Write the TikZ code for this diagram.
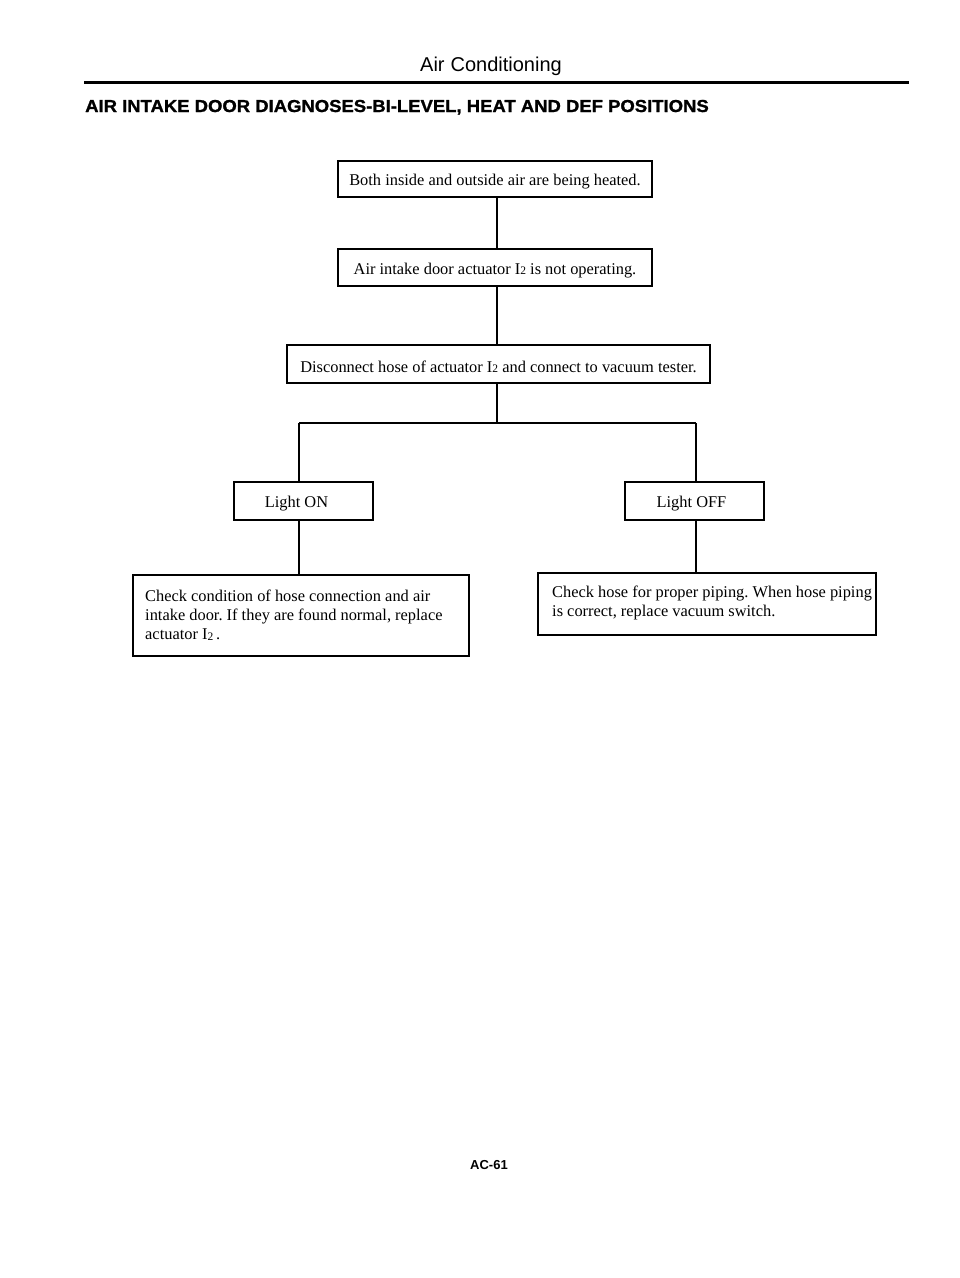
\documentclass[tikz,border=0pt]{standalone}
\usepackage{fontspec}
\setmainfont{Liberation Serif}
\newfontfamily\hdsans{Liberation Sans}
\newfontfamily\ttlfont[FakeBold=1.2]{Liberation Sans Bold}
\newcommand\Itwo{I\raisebox{-0.5pt}{\fontsize{11.5}{11.5}\selectfont 2}}
\newcommand\lowstrut{\rule{0pt}{17pt}}
\frenchspacing
\begin{document}
\begin{tikzpicture}[x=1pt,y=-1pt,
  box/.style={draw=black,line width=1.3pt,inner sep=0pt,font=\fontsize{16.4}{19}\selectfont},
  conn/.style={draw=black,line width=1.3pt},
  txtblock/.style={align=left,anchor=north west,inner sep=0pt,font=\fontsize{16.4}{19}\selectfont}]
\useasboundingbox[fill=white] (0,0) rectangle (960,1278);
% header
\node[anchor=base,inner sep=0pt,font=\hdsans\fontsize{20}{23}\selectfont] (hdr) at (491,71) {Air\hspace{0.3em}Conditioning};
\draw[line width=3pt] (84,82) coordinate (rl) -- (909,82) coordinate (rr);
\node[anchor=base west,inner sep=0pt,font=\ttlfont\fontsize{16.8}{20}\selectfont] (ttl) at (85,112) {\scalebox{1.1}[1.03]{AIR INTAKE DOOR DIAGNOSES-BI-LEVEL, HEAT AND DEF POSITIONS}};
% boxes
\node[box,minimum width=314pt,minimum height=36pt] (b1) at (495,179) {\lowstrut Both inside and outside air are being heated.};
\node[box,minimum width=314pt,minimum height=37pt] (b2) at (495,267.5) {\lowstrut Air intake door actuator \Itwo{} is not operating.};
\node[box,minimum width=423pt,minimum height=38pt] (b3) at (498.5,364) {\lowstrut Disconnect hose of actuator \Itwo{} and connect to vacuum tester.};
\node[box,minimum width=139pt,minimum height=38pt] (lon) at (303.5,501) {\hspace{-14pt}\lowstrut Light ON};
\node[box,minimum width=139pt,minimum height=38pt] (loff) at (694.5,501) {\hspace{-6pt}\lowstrut Light OFF};
\node[box,minimum width=336pt,minimum height=81pt] (c1) at (301,615.5) {};
\node[txtblock] (c1t) at (145,590) {Check condition of hose connection and air\\intake door. If they are found normal, replace\\actuator \Itwo\,.};
\node[box,minimum width=338pt,minimum height=62pt] (c2) at (707,604) {};
\node[txtblock] (c2t) at (552,586) {Check hose for proper piping. When hose piping\\is correct, replace vacuum switch.};
% connectors
\coordinate (mid) at (497,423);
\coordinate (lj) at (299,423);
\coordinate (rj) at (696,423);
\draw[conn] (b1.south -| mid) -- (b2.north -| mid);
\draw[conn] (b2.south -| mid) -- (b3.north -| mid);
\draw[conn] (b3.south -| mid) -- (mid);
\draw[conn] (lj) -- (rj);
\draw[conn] (lj) -- (lon.north -| lj);
\draw[conn] (rj) -- (loff.north -| rj);
\draw[conn] (lon.south -| lj) -- (c1.north -| lj);
\draw[conn] (loff.south -| rj) -- (c2.north -| rj);
% footer
\node[inner sep=0pt,font=\hdsans\bfseries\fontsize{13}{15}\selectfont] (ftr) at (489,1165) {AC-61};
\end{tikzpicture}
\end{document}
